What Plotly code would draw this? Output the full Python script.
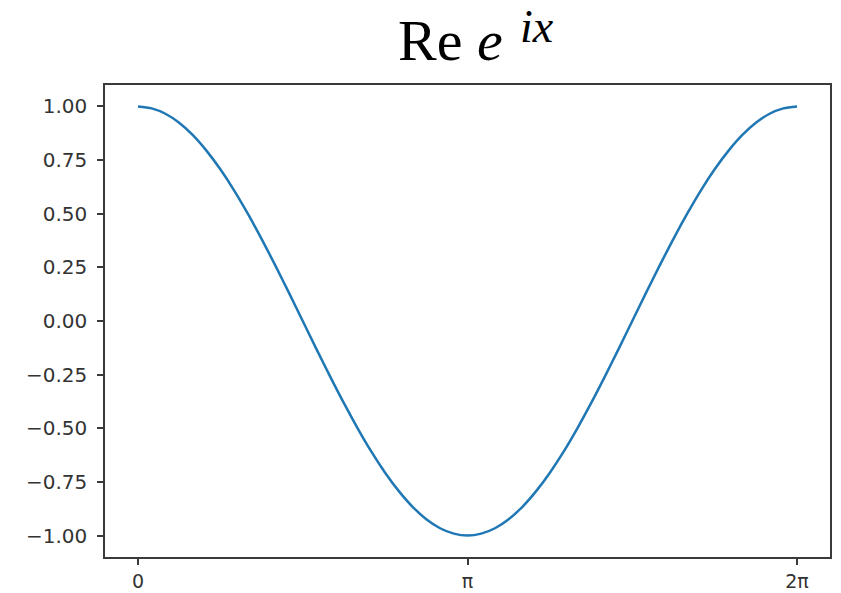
import math
import plotly.graph_objects as go

# Sample positions along one period, in units of pi/24
steps = list(range(49))
re_values = [1.000, 0.991, 0.966, 0.924, 0.866, 0.793, 0.707, 0.609, 0.500, 0.383,
             0.259, 0.131, 0.000, -0.131, -0.259, -0.383, -0.500, -0.609, -0.707,
             -0.793, -0.866, -0.924, -0.966, -0.991, -1.000, -0.991, -0.966, -0.924,
             -0.866, -0.793, -0.707, -0.609, -0.500, -0.383, -0.259, -0.131, 0.000,
             0.131, 0.259, 0.383, 0.500, 0.609, 0.707, 0.793, 0.866, 0.924, 0.966,
             0.991, 1.000]

tick_vals = [0, math.pi, 2 * math.pi]
tick_text = ["0", "π", "2π"]
y_ticks = [1.0, 0.75, 0.5, 0.25, 0.0, -0.25, -0.5, -0.75, -1.0]
y_labels = ["1.00", "0.75", "0.50", "0.25", "0.00", "−0.25", "−0.50", "−0.75", "−1.00"]

x_vals = [k * math.pi / 24 for k in steps]

fig = go.Figure()
fig.add_trace(go.Scatter(
    x=x_vals, y=re_values, mode="lines",
    line=dict(color="#1f77b4", width=2.5, shape="spline", smoothing=0.8),
    hoverinfo="skip", showlegend=False,
))

axis_common = dict(
    showgrid=False, zeroline=False, showline=True, mirror=True,
    linecolor="#3a3a3a", linewidth=1.5, automargin=False,
    ticks="outside", ticklen=6, tickwidth=1.5, tickcolor="#3a3a3a",
    tickfont=dict(family="DejaVu Sans", size=20, color="#333333"),
)

fig.update_xaxes(range=[-0.1 * math.pi, 2.1 * math.pi], ticklabelstandoff=0,
                 tickvals=tick_vals, ticktext=tick_text, **axis_common)
fig.update_xaxes(tickfont=dict(family="DejaVu Sans", size=19, color="#333333"))
fig.update_yaxes(range=[-1.1, 1.1], ticklabelstandoff=6,
                 tickvals=y_ticks, ticktext=y_labels, **axis_common)

# Title: "Re e" with a separately sized italic exponent
fig.add_annotation(
    text="Re <i>e</i>",
    xref="paper", yref="paper", x=0.5517, y=1.0, yshift=10,
    xanchor="right", yanchor="bottom", showarrow=False,
    font=dict(family="Liberation Serif", size=58, color="#000000"),
)
fig.add_annotation(
    text="<i>ix</i>",
    xref="paper", yref="paper", x=0.5697, y=1.0, yshift=31,
    xanchor="left", yanchor="bottom", showarrow=False,
    font=dict(family="Liberation Serif", size=46, color="#000000"),
)

fig.update_layout(
    width=841, height=593,
    margin=dict(l=105, r=11, t=85, b=36),
    paper_bgcolor="white", plot_bgcolor="white",
)

fig.write_html("out.html")
